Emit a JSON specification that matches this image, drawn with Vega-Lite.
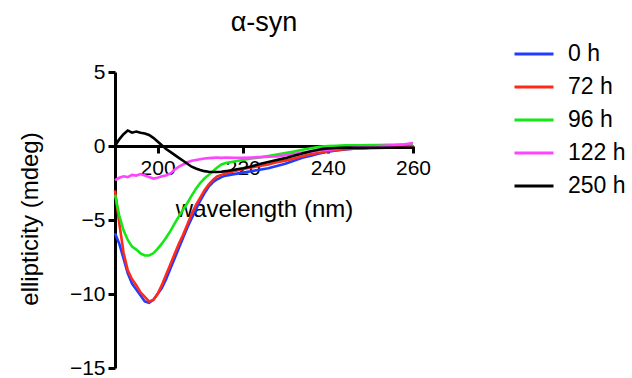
{
  "$schema": "https://vega.github.io/schema/vega-lite/v6.json",
  "width": 298,
  "height": 296,
  "autosize": {"type": "none"},
  "padding": {"left": 115, "top": 72, "right": 219, "bottom": 10},
  "background": "white",
  "title": {"text": "α-syn", "font": "Liberation Sans", "fontSize": 27, "fontWeight": "normal", "color": "#000000", "frame": "group", "anchor": "middle", "baseline": "alphabetic", "offset": 0, "dy": 25},
  "data": {"values": [
    {"nm": 190, "0 h": -5.9, "72 h": -3.0, "96 h": -3.3, "122 h": -2.3, "250 h": 0.0},
    {"nm": 191, "0 h": -6.6, "72 h": -5.2, "96 h": -4.7, "122 h": -2.15, "250 h": 0.45},
    {"nm": 192, "0 h": -7.6, "72 h": -7.2, "96 h": -5.7, "122 h": -2.05, "250 h": 0.8},
    {"nm": 193, "0 h": -8.6, "72 h": -8.4, "96 h": -6.35, "122 h": -2.1, "250 h": 1.05},
    {"nm": 194, "0 h": -9.3, "72 h": -9.0, "96 h": -6.8, "122 h": -1.95, "250 h": 0.9},
    {"nm": 195, "0 h": -9.7, "72 h": -9.4, "96 h": -7.0, "122 h": -2.0, "250 h": 0.98},
    {"nm": 196, "0 h": -10.1, "72 h": -9.9, "96 h": -7.25, "122 h": -1.9, "250 h": 0.9},
    {"nm": 197, "0 h": -10.5, "72 h": -10.2, "96 h": -7.4, "122 h": -2.0, "250 h": 0.85},
    {"nm": 198, "0 h": -10.6, "72 h": -10.5, "96 h": -7.4, "122 h": -2.1, "250 h": 0.75},
    {"nm": 199, "0 h": -10.4, "72 h": -10.4, "96 h": -7.25, "122 h": -2.2, "250 h": 0.55},
    {"nm": 200, "0 h": -10.0, "72 h": -10.0, "96 h": -6.95, "122 h": -2.15, "250 h": 0.3},
    {"nm": 201, "0 h": -9.6, "72 h": -9.4, "96 h": -6.6, "122 h": -2.05, "250 h": 0.05},
    {"nm": 202, "0 h": -9.0, "72 h": -8.7, "96 h": -6.2, "122 h": -2.0, "250 h": -0.2},
    {"nm": 203, "0 h": -8.3, "72 h": -8.0, "96 h": -5.75, "122 h": -1.85, "250 h": -0.4},
    {"nm": 204, "0 h": -7.6, "72 h": -7.3, "96 h": -5.25, "122 h": -1.6, "250 h": -0.6},
    {"nm": 205, "0 h": -6.9, "72 h": -6.6, "96 h": -4.75, "122 h": -1.4, "250 h": -0.8},
    {"nm": 206, "0 h": -6.2, "72 h": -6.0, "96 h": -4.3, "122 h": -1.25, "250 h": -1.0},
    {"nm": 207, "0 h": -5.5, "72 h": -5.3, "96 h": -3.85, "122 h": -1.1, "250 h": -1.2},
    {"nm": 208, "0 h": -4.9, "72 h": -4.6, "96 h": -3.35, "122 h": -1.0, "250 h": -1.4},
    {"nm": 209, "0 h": -4.3, "72 h": -4.0, "96 h": -2.9, "122 h": -0.95, "250 h": -1.52},
    {"nm": 210, "0 h": -3.7, "72 h": -3.5, "96 h": -2.5, "122 h": -0.9, "250 h": -1.62},
    {"nm": 211, "0 h": -3.2, "72 h": -3.0, "96 h": -2.2, "122 h": -0.85, "250 h": -1.7},
    {"nm": 212, "0 h": -2.75, "72 h": -2.6, "96 h": -1.95, "122 h": -0.82, "250 h": -1.74},
    {"nm": 213, "0 h": -2.45, "72 h": -2.3, "96 h": -1.7, "122 h": -0.8, "250 h": -1.76},
    {"nm": 214, "0 h": -2.25, "72 h": -2.05, "96 h": -1.45, "122 h": -0.78, "250 h": -1.76},
    {"nm": 215, "0 h": -2.1, "72 h": -1.95, "96 h": -1.25, "122 h": -0.8, "250 h": -1.74},
    {"nm": 216, "0 h": -2.0, "72 h": -1.85, "96 h": -1.15, "122 h": -0.78, "250 h": -1.7},
    {"nm": 218, "0 h": -1.9, "72 h": -1.7, "96 h": -1.05, "122 h": -0.8, "250 h": -1.6},
    {"nm": 220, "0 h": -1.8, "72 h": -1.55, "96 h": -0.95, "122 h": -0.8, "250 h": -1.5},
    {"nm": 222, "0 h": -1.7, "72 h": -1.45, "96 h": -0.85, "122 h": -0.78, "250 h": -1.38},
    {"nm": 224, "0 h": -1.6, "72 h": -1.35, "96 h": -0.78, "122 h": -0.75, "250 h": -1.22},
    {"nm": 226, "0 h": -1.5, "72 h": -1.25, "96 h": -0.68, "122 h": -0.72, "250 h": -1.08},
    {"nm": 228, "0 h": -1.35, "72 h": -1.1, "96 h": -0.58, "122 h": -0.7, "250 h": -0.95},
    {"nm": 230, "0 h": -1.2, "72 h": -1.0, "96 h": -0.48, "122 h": -0.62, "250 h": -0.82},
    {"nm": 232, "0 h": -1.0, "72 h": -0.85, "96 h": -0.38, "122 h": -0.55, "250 h": -0.66},
    {"nm": 234, "0 h": -0.8, "72 h": -0.7, "96 h": -0.25, "122 h": -0.45, "250 h": -0.5},
    {"nm": 236, "0 h": -0.65, "72 h": -0.55, "96 h": -0.15, "122 h": -0.38, "250 h": -0.35},
    {"nm": 238, "0 h": -0.5, "72 h": -0.45, "96 h": -0.05, "122 h": -0.3, "250 h": -0.24},
    {"nm": 240, "0 h": -0.38, "72 h": -0.35, "96 h": 0.0, "122 h": -0.25, "250 h": -0.17},
    {"nm": 242, "0 h": -0.3, "72 h": -0.28, "96 h": 0.02, "122 h": -0.2, "250 h": -0.14},
    {"nm": 244, "0 h": -0.24, "72 h": -0.22, "96 h": 0.04, "122 h": -0.15, "250 h": -0.13},
    {"nm": 246, "0 h": -0.19, "72 h": -0.18, "96 h": 0.05, "122 h": -0.1, "250 h": -0.12},
    {"nm": 248, "0 h": -0.16, "72 h": -0.16, "96 h": 0.05, "122 h": -0.06, "250 h": -0.12},
    {"nm": 250, "0 h": -0.14, "72 h": -0.14, "96 h": 0.06, "122 h": -0.03, "250 h": -0.12},
    {"nm": 252, "0 h": -0.12, "72 h": -0.13, "96 h": 0.07, "122 h": 0.0, "250 h": -0.12},
    {"nm": 254, "0 h": -0.11, "72 h": -0.12, "96 h": 0.08, "122 h": 0.03, "250 h": -0.12},
    {"nm": 256, "0 h": -0.1, "72 h": -0.11, "96 h": 0.08, "122 h": 0.07, "250 h": -0.12},
    {"nm": 258, "0 h": -0.08, "72 h": -0.1, "96 h": 0.1, "122 h": 0.12, "250 h": -0.12},
    {"nm": 260, "0 h": -0.06, "72 h": -0.1, "96 h": 0.1, "122 h": 0.2, "250 h": -0.12}
  ]},
  "transform": [{"fold": ["0 h", "72 h", "96 h", "122 h", "250 h"], "as": ["t", "v"]}],
  "mark": {"type": "line", "strokeWidth": 2.6, "clip": false},
  "encoding": {
    "x": {
      "field": "nm", "type": "quantitative",
      "scale": {"domain": [190, 260], "nice": false, "zero": false},
      "axis": {
        "values": [200, 220, 240, 260], "orient": "bottom", "offset": -222,
        "title": "wavelength (nm)", "titleFont": "Liberation Sans", "titleFontSize": 24, "titleFontWeight": "normal", "titleColor": "#000000",
        "titleBaseline": "alphabetic", "titleY": 70.5,
        "labelFont": "Liberation Sans", "labelFontSize": 21, "labelColor": "#000000", "labelPadding": 4, "labelFlush": false, "labelOverlap": false,
        "tickSize": 7, "tickWidth": 3, "tickColor": "#000000", "domainColor": "#000000", "domainWidth": 3, "grid": false
      }
    },
    "y": {
      "field": "v", "type": "quantitative",
      "scale": {"domain": [-15, 5], "nice": false, "zero": false},
      "axis": {
        "values": [-15, -10, -5, 0, 5],
        "title": "ellipticity (mdeg)", "titleFont": "Liberation Sans", "titleFontSize": 24, "titleFontWeight": "normal", "titleColor": "#000000",
        "titleBaseline": "alphabetic", "titleX": -77.5, "titleY": 146.5, "titleAngle": -90,
        "labelFont": "Liberation Sans", "labelFontSize": 21, "labelColor": "#000000", "labelPadding": 3, "labelFlush": false, "labelOverlap": false,
        "tickSize": 7, "tickWidth": 3, "tickColor": "#000000", "domainColor": "#000000", "domainWidth": 3, "grid": false
      }
    },
    "color": {
      "field": "t", "type": "nominal",
      "scale": {"domain": ["0 h", "72 h", "96 h", "122 h", "250 h"], "range": ["#1f3dff", "#ff2a1a", "#14e814", "#ff44ff", "#000000"]},
      "legend": {
        "orient": "none", "legendX": 398, "legendY": -39, "title": null, "padding": 0,
        "symbolType": "stroke", "symbolSize": 1521, "symbolStrokeWidth": 3,
        "labelFont": "Liberation Sans", "labelFontSize": 23, "labelColor": "#000000", "labelOffset": 13, "rowPadding": -9.5
      }
    }
  },
  "config": {"view": {"stroke": null}}
}
